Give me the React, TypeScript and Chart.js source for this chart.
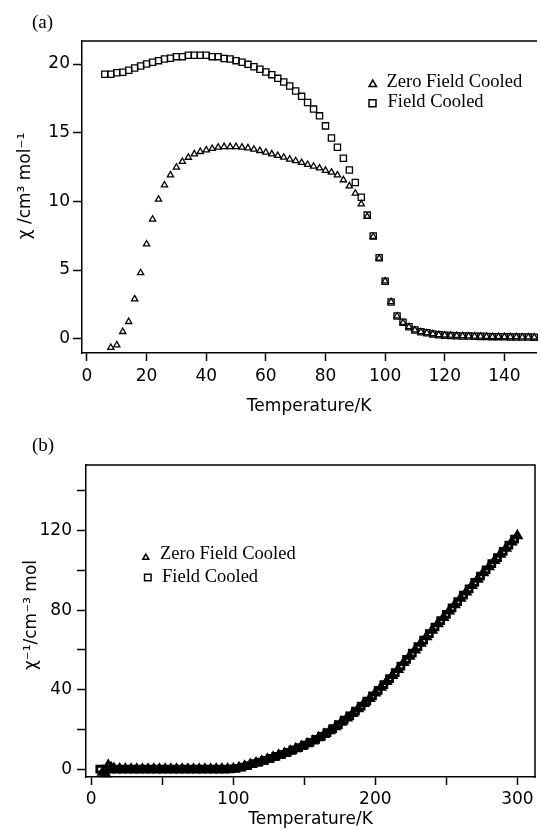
import React, { useEffect, useRef } from 'react';
import { Chart, registerables } from 'chart.js';

Chart.register(...registerables);

// ---------- Panel (a): chi vs T ----------
const aZfcT = [8,10,12,14,16,18,20,22,24,26,28,30,32,34,36,38,40,42,44,46,48,50,52,54,56,58,60,62,64,66,68,70,72,74,76,78,80,82,84,86,88,90,92,94,96,98,100,102,104,106,108,110,112,114,116,118,120,122,124,126,128,130,132,134,136,138,140,142,144,146,148,150];
const aZfcChi = [-0.65,-0.46,0.51,1.24,2.89,4.80,6.89,8.69,10.15,11.19,11.92,12.48,12.90,13.20,13.45,13.62,13.74,13.84,13.94,13.98,13.98,13.98,13.94,13.89,13.79,13.69,13.57,13.45,13.33,13.21,13.07,12.95,12.82,12.68,12.55,12.42,12.25,12.12,11.92,11.56,11.12,10.59,9.81,8.89,7.43,5.86,4.20,2.69,1.65,1.17,0.86,0.63,0.50,0.43,0.35,0.29,0.26,0.24,0.22,0.20,0.19,0.18,0.17,0.16,0.15,0.15,0.14,0.13,0.13,0.12,0.12,0.11];

const aFcT = [6,8,10,12,14,16,18,20,22,24,26,28,30,32,34,36,38,40,42,44,46,48,50,52,54,56,58,60,62,64,66,68,70,72,74,76,78,80,82,84,86,88,90,92,94,96,98,100,102,104,106,108,110,112,114,116,118,120,122,124,126,128,130,132,134,136,138,140,142,144,146,148,150];
const aFcChi = [19.26,19.26,19.37,19.40,19.55,19.71,19.86,20.00,20.13,20.25,20.37,20.42,20.54,20.54,20.64,20.64,20.64,20.64,20.54,20.54,20.40,20.37,20.25,20.13,19.98,19.81,19.62,19.42,19.23,18.96,18.70,18.40,18.04,17.65,17.20,16.72,16.23,15.50,14.62,13.94,13.14,12.29,11.38,10.30,9.00,7.48,5.90,4.18,2.68,1.66,1.20,0.87,0.64,0.51,0.43,0.35,0.29,0.26,0.24,0.22,0.20,0.19,0.18,0.17,0.16,0.15,0.15,0.14,0.13,0.13,0.12,0.12,0.11];

const aXTicks = [0, 20, 40, 60, 80, 100, 120, 140];
const aYTicks = [0, 5, 10, 15, 20];

// ---------- Panel (b): 1/chi vs T ----------
const bZfcT = [8,10,12,14,16,20,24,28,32,36,40,44,48,52,56,60,64,68,72,76,80,84,88,92,96,100,104,108,112,116,120,124,128,132,136,140,144,148,152,156,160,164,168,172,176,180,184,188,192,196,200,204,208,212,216,220,224,228,232,236,240,244,248,252,256,260,264,268,272,276,280,284,288,292,296,300];
const bZfcInv = [-1.5,-2.2,2.0,0.8,0.35,0.15,0.10,0.08,0.08,0.07,0.07,0.07,0.07,0.07,0.07,0.07,0.08,0.08,0.08,0.08,0.08,0.08,0.09,0.10,0.13,0.3,0.8,1.5,2.4,3.2,4.1,5.0,6.0,7.0,8.0,9.1,10.3,11.5,12.8,14.2,15.8,17.5,19.4,21.4,23.6,25.8,28.0,30.4,33.0,35.6,38.3,41.2,44.1,47.1,50.2,53.6,56.8,60.0,63.3,66.6,69.9,73.1,76.3,79.5,82.7,85.9,89.1,92.3,95.5,98.7,101.8,104.9,108.0,111.1,114.2,117.3];

const bFcT = [6,10,14,18,22,26,30,34,38,42,46,50,54,58,62,66,70,74,78,82,86,90,94,98,102,106,110,114,118,122,126,130,134,138,142,146,150,154,158,162,166,170,174,178,182,186,190,194,198,202,206,210,214,218,222,226,230,234,238,242,246,250,254,258,262,266,270,274,278,282,286,290,294,298];
const bFcInv = [0.05,0.05,0.05,0.05,0.05,0.05,0.05,0.05,0.05,0.05,0.05,0.05,0.05,0.05,0.05,0.05,0.06,0.06,0.06,0.07,0.08,0.09,0.11,0.17,0.5,1.1,1.9,2.8,3.6,4.5,5.5,6.5,7.5,8.5,9.7,10.9,12.1,13.5,15.0,16.6,18.4,20.4,22.5,24.7,26.9,29.2,31.7,34.3,36.9,39.7,42.6,45.6,48.6,51.9,55.2,58.4,61.6,64.9,68.2,71.5,74.7,77.9,81.1,84.3,87.5,90.7,93.9,97.1,100.2,103.3,106.4,109.5,112.6,115.7];

const bXTicks = [0, 50, 100, 150, 200, 250, 300];
const bXLabels = [0, 100, 200, 300];
const bYTicks = [0, 20, 40, 60, 80, 100, 120, 140];
const bYLabels = [0, 40, 80, 120];

const labelZfc = 'Zero Field Cooled';
const labelFc = 'Field Cooled';

const SANS = "'DejaVu Sans', sans-serif";
const SERIF = "'Liberation Serif', 'Times New Roman', serif";

const pts = (xs: number[], ys: number[]) => xs.map((x, i) => ({ x, y: ys[i] }));

function framePlugin(sides: { top?: boolean; right?: boolean }) {
  return {
    id: 'frameLines',
    afterDraw(chart: any) {
      const { ctx, chartArea: a } = chart;
      ctx.save();
      ctx.strokeStyle = '#000';
      ctx.lineWidth = 1.5;
      ctx.beginPath();
      if (sides.top) { ctx.moveTo(a.left - 0.75, a.top); ctx.lineTo(a.right + 0.75, a.top); }
      if (sides.right) { ctx.moveTo(a.right, a.top); ctx.lineTo(a.right, a.bottom + 0.75); }
      ctx.stroke();
      ctx.restore();
    },
  };
}

function yTitlePlugin(text: string, cx: number, cy: number) {
  return {
    id: 'yTitleText',
    afterDraw(chart: any) {
      const { ctx } = chart;
      ctx.save();
      ctx.translate(cx, cy);
      ctx.rotate(-Math.PI / 2);
      ctx.font = `17px ${SANS}`;
      ctx.fillStyle = '#000';
      ctx.textAlign = 'center';
      ctx.textBaseline = 'middle';
      ctx.fillText(text, 0, 0);
      ctx.restore();
    },
  };
}

type LegCfg = {
  markers: { x: number; y: number }[];
  texts: { x: number; y: number }[];
  triW: number; triH: number; sq: number;
};

function legendPlugin(cfg: LegCfg) {
  return {
    id: 'innerLegend',
    afterDatasetsDraw(chart: any) {
      const { ctx } = chart;
      ctx.save();
      chart.data.datasets.forEach((ds: any, i: number) => {
        const m = cfg.markers[i];
        const t = cfg.texts[i];
        ctx.strokeStyle = '#000';
        ctx.lineWidth = 1.5;
        ctx.beginPath();
        if (ds.pointStyle === 'triangle') {
          ctx.moveTo(m.x, m.y - cfg.triH / 2);
          ctx.lineTo(m.x + cfg.triW / 2, m.y + cfg.triH / 2);
          ctx.lineTo(m.x - cfg.triW / 2, m.y + cfg.triH / 2);
          ctx.closePath();
        } else {
          ctx.rect(m.x - cfg.sq / 2, m.y - cfg.sq / 2, cfg.sq, cfg.sq);
        }
        ctx.stroke();
        ctx.font = `18.5px ${SERIF}`;
        ctx.fillStyle = '#000';
        ctx.textAlign = 'left';
        ctx.textBaseline = 'alphabetic';
        ctx.fillText(ds.label, t.x, t.y);
      });
      ctx.restore();
    },
  };
}

function axisCommon(tickLength: number) {
  return {
    grid: { display: true, drawOnChartArea: false, drawTicks: true, tickLength, tickWidth: 1.5, tickColor: '#000' },
    border: { display: true, color: '#000', width: 1.5 },
  };
}

function configA(): any {
  return {
    type: 'scatter',
    data: {
      datasets: [
        {
          label: labelZfc, data: pts(aZfcT, aZfcChi), pointStyle: 'triangle', pointRadius: 3.6,
          pointBorderColor: '#000', pointBackgroundColor: 'rgba(0,0,0,0)', pointBorderWidth: 1.3, clip: false,
        },
        {
          label: labelFc, data: pts(aFcT, aFcChi), pointStyle: 'rect', pointRadius: 4.4,
          pointBorderColor: '#000', pointBackgroundColor: 'rgba(0,0,0,0)', pointBorderWidth: 1.3, clip: false,
        },
      ],
    },
    options: {
      responsive: false, animation: false, devicePixelRatio: 1, events: [],
      layout: { padding: { top: 41, left: 0, right: 0, bottom: 0 } },
      plugins: { legend: { display: false }, tooltip: { enabled: false } },
      scales: {
        x: {
          type: 'linear', min: -1.66, max: 150.7,
          afterBuildTicks: (s: any) => { s.ticks = aXTicks.map((v) => ({ value: v })); },
          afterFit: (s: any) => { s.height = 67; },
          ticks: { padding: 5, color: '#000', font: { size: 17, family: SANS }, maxRotation: 0, autoSkip: false },
          title: { display: true, text: 'Temperature/K', color: '#000', font: { size: 17, family: SANS }, padding: { top: 0, bottom: 3 } },
          ...axisCommon(8),
        },
        y: {
          type: 'linear', min: -1.04, max: 21.68,
          afterBuildTicks: (s: any) => { s.ticks = aYTicks.map((v) => ({ value: v })); },
          afterFit: (s: any) => { s.width = 82; },
          ticks: { padding: 3, color: '#000', font: { size: 17, family: SANS }, autoSkip: false },
          ...axisCommon(9),
        },
      },
    },
    plugins: [
      framePlugin({ top: true }),
      yTitlePlugin('χ /cm³ mol⁻¹', 26, 186),
      legendPlugin({
        markers: [{ x: 372.8, y: 83.3 }, { x: 372.5, y: 103.3 }],
        texts: [{ x: 386.5, y: 87.3 }, { x: 387.5, y: 107.3 }],
        triW: 7.5, triH: 6.5, sq: 7,
      }),
    ],
  };
}

function configB(): any {
  return {
    type: 'scatter',
    data: {
      datasets: [
        {
          label: labelZfc, data: pts(bZfcT, bZfcInv), pointStyle: 'triangle', pointRadius: 4.2,
          pointBorderColor: '#000', pointBackgroundColor: 'rgba(0,0,0,0)', pointBorderWidth: 2.8, clip: false,
        },
        {
          label: labelFc, data: pts(bFcT, bFcInv), pointStyle: 'rect', pointRadius: 4.2,
          pointBorderColor: '#000', pointBackgroundColor: 'rgba(0,0,0,0)', pointBorderWidth: 2.8, clip: false,
        },
      ],
    },
    options: {
      responsive: false, animation: false, devicePixelRatio: 1, events: [],
      layout: { padding: { top: 45, left: 0, right: 4, bottom: 0 } },
      plugins: { legend: { display: false }, tooltip: { enabled: false } },
      scales: {
        x: {
          type: 'linear', min: -3.7, max: 312.4,
          afterBuildTicks: (s: any) => { s.ticks = bXTicks.map((v) => ({ value: v })); },
          afterFit: (s: any) => { s.height = 58; },
          ticks: {
            padding: 4, color: '#000', font: { size: 17, family: SANS }, maxRotation: 0, autoSkip: false,
            callback: (v: any) => (bXLabels.includes(Number(v)) ? String(v) : ''),
          },
          title: { display: true, text: 'Temperature/K', color: '#000', font: { size: 17, family: SANS }, padding: { top: 0, bottom: 5 } },
          ...axisCommon(8),
        },
        y: {
          type: 'linear', min: -3.87, max: 152.9,
          afterBuildTicks: (s: any) => { s.ticks = bYTicks.map((v) => ({ value: v })); },
          afterFit: (s: any) => { s.width = 86; },
          ticks: {
            padding: 5, color: '#000', font: { size: 17, family: SANS }, autoSkip: false,
            callback: (v: any) => (bYLabels.includes(Number(v)) ? String(v) : ''),
          },
          ...axisCommon(9),
        },
      },
    },
    plugins: [
      framePlugin({ top: true, right: true }),
      yTitlePlugin('χ⁻¹/cm⁻³ mol', 32, 195),
      legendPlugin({
        markers: [{ x: 145.8, y: 136.7 }, { x: 147.8, y: 157.5 }],
        texts: [{ x: 160, y: 139.3 }, { x: 162, y: 161.7 }],
        triW: 6, triH: 5.2, sq: 6.5,
      }),
    ],
  };
}

export default function App() {
  const refA = useRef<HTMLCanvasElement>(null);
  const refB = useRef<HTMLCanvasElement>(null);

  useEffect(() => {
    Chart.defaults.font.family = SANS;
    Chart.defaults.color = '#000';
    const ca = new Chart(refA.current as HTMLCanvasElement, configA());
    const cb = new Chart(refB.current as HTMLCanvasElement, configB());
    return () => { ca.destroy(); cb.destroy(); };
  }, []);

  const panelLabel: React.CSSProperties = {
    position: 'absolute', left: 32, fontFamily: SERIF, fontSize: 19, lineHeight: '19px', color: '#000',
  };

  return (
    <div style={{ position: 'absolute', left: 0, top: 0, width: 542, height: 835, overflow: 'hidden', background: '#fff' }}>
      <canvas ref={refA} width={542} height={420} style={{ position: 'absolute', left: 0, top: 0, width: 542, height: 420 }} />
      <canvas ref={refB} width={542} height={415} style={{ position: 'absolute', left: 0, top: 420, width: 542, height: 415 }} />
      <div style={{ ...panelLabel, top: 12 }}>(a)</div>
      <div style={{ ...panelLabel, top: 435 }}>(b)</div>
    </div>
  );
}
